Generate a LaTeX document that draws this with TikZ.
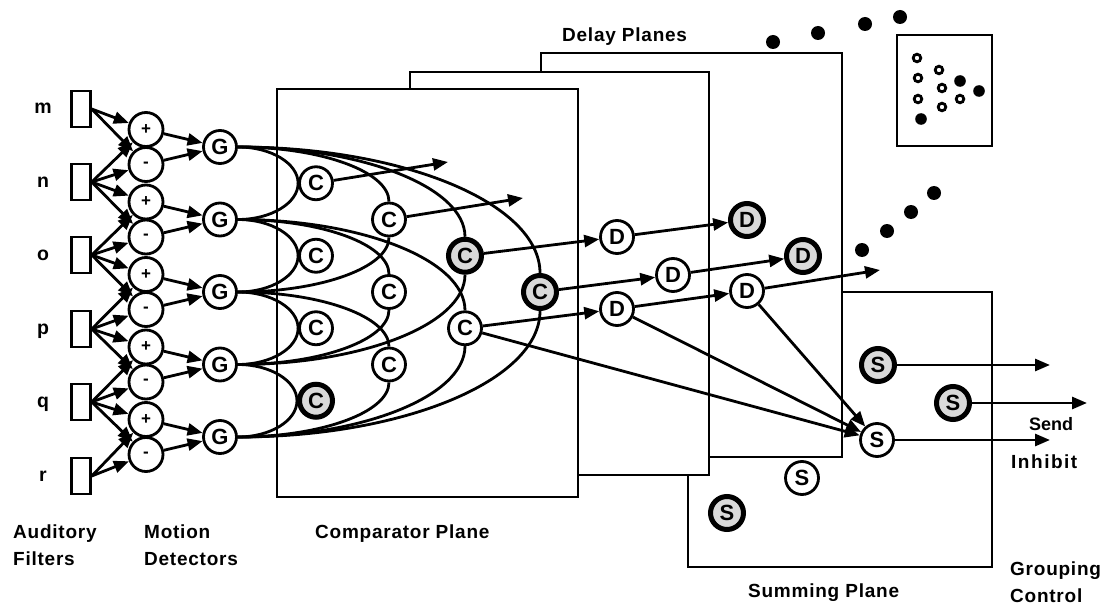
\documentclass[tikz,border=0pt]{standalone}
\usepackage{fontspec}
\setmainfont{Liberation Sans}
\usetikzlibrary{arrows.meta,calc}
\pgfdeclarelayer{planes}
\pgfdeclarelayer{front}
\pgfsetlayers{planes,main,front}
\newcommand\GCarc[2]{\draw[ln] let \p1=(#1.east), \p2=(#2) in (\p1) .. controls ({\x1+0.55*(\x2-\x1)},\y1) and (\x2,{\y2+0.55*(\y1-\y2)}) .. (\p2);}
\begin{document}
\begin{tikzpicture}[x=1pt,y=-1pt,
  ln/.style={line width=2.8pt},
  arr/.style={ln,-{Triangle[length=15pt,width=12pt]}},
  plane/.style={draw,line width=2.5pt,fill=white},
  filt/.style={draw,line width=2.5pt,fill=white,minimum width=19pt,minimum height=36pt,inner sep=0pt},
  unit/.style={circle,draw,line width=2.8pt,fill=white,minimum size=33pt,inner sep=0pt,font=\fontsize{22}{22}\selectfont\bfseries},
  dark/.style={unit,line width=5pt,fill=black!15},
  pm/.style={circle,draw,line width=2.8pt,fill=white,minimum size=34pt,inner sep=0pt,font=\fontsize{17}{17}\selectfont\bfseries},
  flab/.style={anchor=base,inner sep=0pt,font=\fontsize{19.5}{19.5}\selectfont\bfseries},
  lab/.style={anchor=base west,inner sep=0pt,font=\fontsize{19}{19}\selectfont\bfseries\addfontfeature{LetterSpace=4}},
  dot/.style={fill=black},
  ring/.style={draw=black,line width=2.8pt}
]
\useasboundingbox (0,0) rectangle (1101,607);

% ---------- planes ----------
\begin{pgfonlayer}{planes}
\draw[plane] (688,292) rectangle (992,567);   % summing plane
\draw[plane] (541,53) rectangle (842,457);    % delay plane 2
\draw[plane] (410,72) rectangle (709,475);    % delay plane 1
\draw[plane] (277,89) rectangle (578,497);    % comparator plane
\end{pgfonlayer}

% ---------- nodes ----------
\begin{pgfonlayer}{front}
\foreach \i/\y/\t in {1/109/m,2/182/n,3/255/o,4/329/p,5/402/q,6/476/r} {
  \node[filt] (f\i) at (81,\y) {};
  \node[flab] (fl\i) at (43,\y+5) {\t};
}
\foreach \k/\y in {1/147,2/219.5,3/292,4/364.5,5/437} {
  \node[pm] (p\k) at (146,\y-17.5) {+};
  \node[pm] (n\k) at (146,\y+17.5) {-};
  \node[unit] (g\k) at (220,\y) {G};
}
% comparators
\node[unit] (c11) at (316,183.25) {C};
\node[unit] (c12) at (316,255.75) {C};
\node[unit] (c13) at (316,328.25) {C};
\node[dark] (c14) at (316,400.75) {C};
\node[unit] (c21) at (389,219.5) {C};
\node[unit] (c22) at (389,292) {C};
\node[unit] (c23) at (389,364.5) {C};
\node[dark] (c31) at (465,255.75) {C};
\node[unit] (c32) at (465,328.25) {C};
\node[dark] (c41) at (540,292) {C};
% delays
\node[unit] (d1) at (617,237) {D};
\node[dark] (d2) at (747,220) {D};
\node[unit] (d3) at (673,275) {D};
\node[dark] (d4) at (803,256) {D};
\node[unit] (d5) at (617,309) {D};
\node[unit] (d6) at (747,291) {D};
% summing
\node[dark] (s1) at (878,365) {S};
\node[dark] (s2) at (953,403) {S};
\node[unit] (s3) at (877,440) {S};
\node[unit] (s4) at (802,478) {S};
\node[dark] (s5) at (727,513) {S};
\end{pgfonlayer}

\coordinate (o1) at (448,162);
\coordinate (o2) at (523,198);
\coordinate (o3) at (880,270);
\coordinate (e1) at (1050,365);
\coordinate (e2) at (1087,403);
\coordinate (e3) at (1050,440);

% ---------- filters to motion detectors ----------
\foreach \k [evaluate=\k as \kk using int(\k+1)] in {1,...,5} {
  \draw[arr] (f\k.east) -- (p\k);
  \draw[arr] (f\k.east) -- (n\k);
  \draw[arr] (f\kk.east) -- (n\k);
  \draw[arr] (f\kk.east) -- (p\k);
  \draw[arr] (p\k) -- (g\k);
  \draw[arr] (n\k) -- (g\k);
}

% ---------- G to comparator arcs ----------
\GCarc{g1}{c11.west} \GCarc{g2}{c11.west}
\GCarc{g2}{c12.west} \GCarc{g3}{c12.west}
\GCarc{g3}{c13.west} \GCarc{g4}{c13.west}
\GCarc{g4}{c14.west} \GCarc{g5}{c14.west}
\GCarc{g1}{c21.north} \GCarc{g3}{c21.south}
\GCarc{g2}{c22.north} \GCarc{g4}{c22.south}
\GCarc{g3}{c23.north} \GCarc{g5}{c23.south}
\GCarc{g1}{c31.north} \GCarc{g4}{c31.south}
\GCarc{g2}{c32.north} \GCarc{g5}{c32.south}
\GCarc{g1}{c41.north} \GCarc{g5}{c41.south}

% ---------- outputs ----------
\draw[arr] (c11) -- (o1);
\draw[arr] (c21) -- (o2);
\draw[arr] (c31) -- (d1);
\draw[arr] (d1) -- (d2);
\draw[arr] (c41) -- (d3);
\draw[arr] (d3) -- (d4);
\draw[arr] (c32) -- (d5);
\draw[arr] (d5) -- (d6);
\draw[arr] (d6) -- (o3);
\draw[arr] (c32) -- (s3);
\draw[arr] (d5) -- (s3);
\draw[arr] (d6) -- (s3);
\draw[arr] (s1) -- (e1);
\draw[arr] (s2) -- (e2);
\draw[arr] (s3) -- (e3);

% ---------- dots ----------
\foreach \x/\y in {773/42,818/33,865/24,900/17,862/250,887/231,911/212,934/193}
  \fill[dot] (\x,\y) circle[radius=7pt];
\draw[line width=2.8pt] (897,35) rectangle (992,146);
\foreach \x/\y in {917/58,918/78,918/99,939/70,942/88,942/107,960/99}
  \draw[ring] (\x,\y) circle[radius=3.8pt];
\foreach \x/\y in {960/81,921/119,979/91}
  \fill[dot] (\x,\y) circle[radius=5.8pt];

% ---------- labels ----------
\node[lab] (tA1) at (13,538) {Auditory};
\node[lab] (tA2) at (13,565) {Filters};
\node[lab] (tM1) at (144,538) {Motion};
\node[lab] (tM2) at (144,565) {Detectors};
\node[lab] (tC) at (315,538) {Comparator Plane};
\node[lab] (tD) at (562,42) {Delay Planes};
\node[lab] (tS) at (748,597) {Summing Plane};
\node[lab] (tG1) at (1010,575) {Grouping};
\node[lab] (tG2) at (1010,602) {Control};
\node[anchor=base west,inner sep=0pt,font=\fontsize{18}{18}\selectfont\bfseries] (tSend) at (1029,430) {Send};
\node[anchor=base west,inner sep=0pt,font=\fontsize{19}{19}\selectfont\bfseries\addfontfeature{LetterSpace=8}] (tInh) at (1011,468) {Inhibit};
\end{tikzpicture}
\end{document}
